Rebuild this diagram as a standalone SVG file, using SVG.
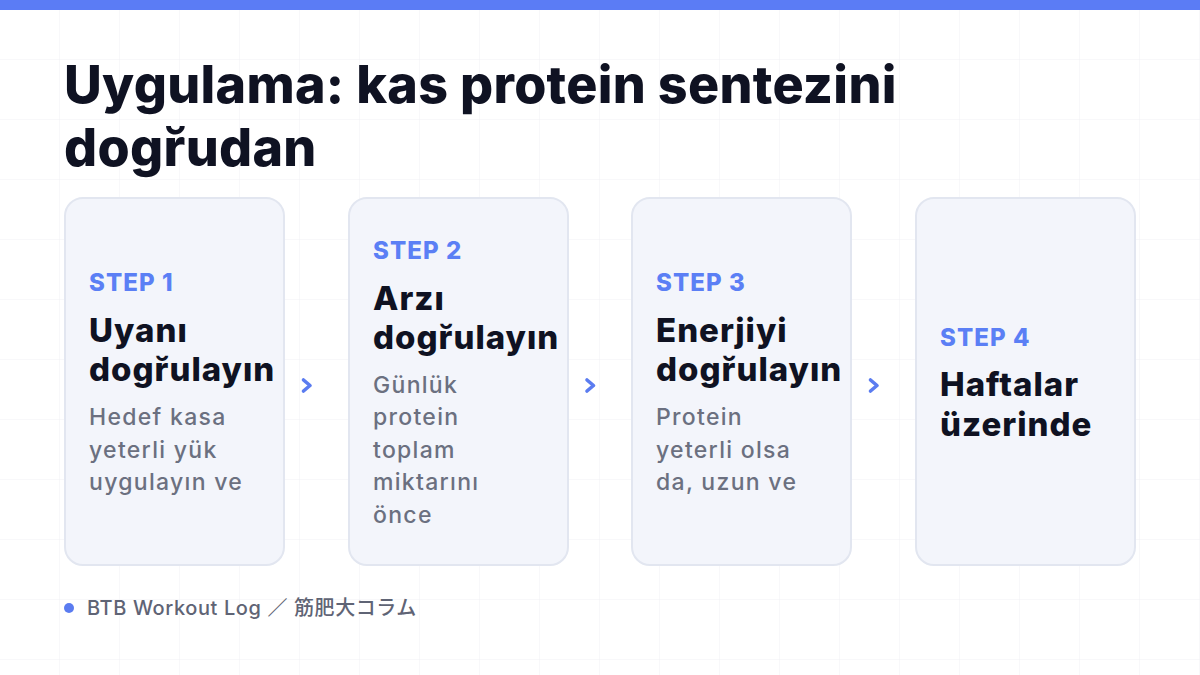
<svg xmlns="http://www.w3.org/2000/svg" width="1200" height="675" viewBox="0 0 1200 675">
<defs>
<pattern id="grid" width="60" height="60" patternUnits="userSpaceOnUse">
<path d="M60 0V60M0 60H60" fill="none" stroke="#f0f1f5" stroke-width="1"/>
</pattern>
<style>
.card{fill:#f3f5fb;stroke:#e2e6f0;stroke-width:2}
.step{font-family:Inter,"Liberation Sans",sans-serif;font-weight:800;font-size:24px;letter-spacing:1.1px;fill:#5b7ff5}
.ttl{font-family:Inter,"Liberation Sans",sans-serif;font-weight:800;font-size:33px;letter-spacing:1px;fill:#0f1222}
.body{font-family:Inter,"Liberation Sans",sans-serif;font-weight:500;font-size:23px;letter-spacing:1.3px;fill:#6b7080}
.chev{fill:none;stroke:#5b7cf0;stroke-width:3.6;stroke-linecap:round;stroke-linejoin:round}
.h1{font-family:Inter,"Liberation Sans",sans-serif;font-weight:800;font-size:52px;letter-spacing:0.3px;fill:#0f1222}
</style>
</defs>
<rect width="1200" height="675" fill="#ffffff"/>
<rect width="1200" height="675" fill="url(#grid)"/>
<rect x="0" y="0" width="1200" height="10" fill="#5b7cf5"/>
<g id="title">
<text class="h1" x="64" y="103">Uygulama: kas protein sentezini</text>
<text class="h1" x="64" y="166">dogr̆udan</text>
</g>
<g id="step1">
<rect class="card" x="65" y="198" width="219" height="367" rx="18"/>
<text class="step" x="89" y="291">STEP 1</text>
<text class="ttl" x="89" y="342">Uyanı</text>
<text class="ttl" x="89" y="381">dogr̆ulayın</text>
<text class="body" x="89" y="425">Hedef kasa</text>
<text class="body" x="89" y="458">yeterli yük</text>
<text class="body" x="89" y="490">uygulayın ve</text>
</g>
<g id="step2">
<rect class="card" x="349" y="198" width="219" height="367" rx="18"/>
<text class="step" x="373" y="259">STEP 2</text>
<text class="ttl" x="373" y="310">Arzı</text>
<text class="ttl" x="373" y="349">dogr̆ulayın</text>
<text class="body" x="373" y="393">Günlük</text>
<text class="body" x="373" y="425">protein</text>
<text class="body" x="373" y="458">toplam</text>
<text class="body" x="373" y="490">miktarını</text>
<text class="body" x="373" y="523">önce</text>
</g>
<g id="step3">
<rect class="card" x="632" y="198" width="219" height="367" rx="18"/>
<text class="step" x="656" y="291">STEP 3</text>
<text class="ttl" x="656" y="342">Enerjiyi</text>
<text class="ttl" x="656" y="381">dogr̆ulayın</text>
<text class="body" x="656" y="425">Protein</text>
<text class="body" x="656" y="458">yeterli olsa</text>
<text class="body" x="656" y="490">da, uzun ve</text>
</g>
<g id="step4">
<rect class="card" x="916" y="198" width="219" height="367" rx="18"/>
<text class="step" x="940" y="346">STEP 4</text>
<text class="ttl" x="940" y="396">Haftalar</text>
<text class="ttl" x="940" y="436">üzerinde</text>
</g>
<g id="connectors">
<path class="chev" d="M303.5 380 L310 385.5 L303.5 391"/>
<path class="chev" d="M587 380 L593.5 385.5 L587 391"/>
<path class="chev" d="M870.5 380 L877 385.5 L870.5 391"/>
</g>
<g id="footer">
<circle cx="69" cy="608" r="5" fill="#5b7cf0"/>
<text x="87" y="615" font-family="Inter,'Liberation Sans','Noto Sans CJK JP',sans-serif" font-weight="500" font-size="20" letter-spacing="0.6" fill="#5f6475">BTB Workout Log ／ 筋肥大コラム</text>
</g>
</svg>
